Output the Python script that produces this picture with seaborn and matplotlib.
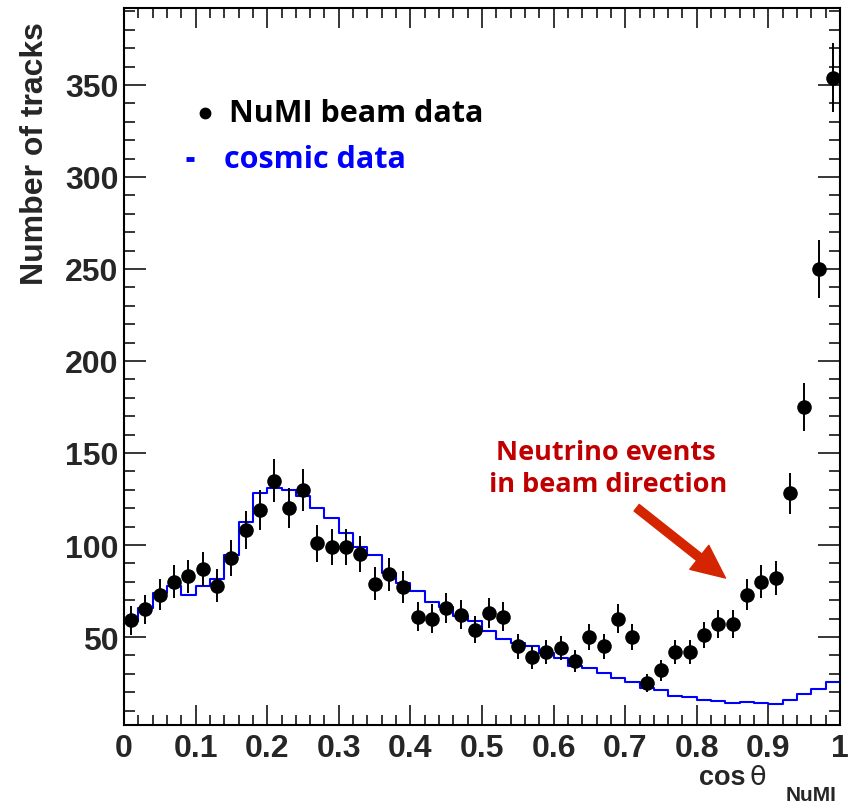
import numpy as np
import pandas as pd
import matplotlib
matplotlib.use("Agg")
import matplotlib.pyplot as plt
from matplotlib.ticker import MultipleLocator
import seaborn as sns

# ---- data ----
n_bins = 50
bin_centers = (np.arange(n_bins) + 0.5) / n_bins

numi_beam = [59, 65, 73, 80, 83, 87, 78, 93, 108, 119,
             135, 120, 130, 101, 99, 99, 95, 79, 84, 77,
             61, 60, 66, 62, 54, 63, 61, 45, 39, 42,
             44, 37, 50, 45, 60, 50, 25, 32, 42, 42,
             51, 57, 57, 73, 80, 82, 128, 175, 250, 354]

cosmic = [58.5, 66, 73.7, 77.5, 72.8, 78, 81.5, 94.4, 112.7, 128.3,
          131.2, 130, 126.5, 120, 114.9, 106.7, 98.7, 94.7, 85, 79.5,
          74.8, 69, 66.5, 61.6, 58.9, 53.4, 48.9, 46.7, 45.3, 41.3,
          38.6, 34, 33, 30.4, 27.9, 25.7, 22.4, 21.4, 18.1, 17.2,
          15.6, 15.2, 14.3, 14.5, 14.3, 13.8, 15.6, 18.9, 21.6, 25.7]

x_ticks = [0, 0.1, 0.2, 0.3, 0.4, 0.5, 0.6, 0.7, 0.8, 0.9, 1]
x_tick_labels = ["0", "0.1", "0.2", "0.3", "0.4", "0.5", "0.6", "0.7", "0.8", "0.9", "1"]
y_ticks = [50, 100, 150, 200, 250, 300, 350]

df = pd.DataFrame({"cos": bin_centers, "beam": numi_beam, "cosmic": cosmic})

# ---- style ----
sns.set_style("ticks")
plt.rcParams["font.family"] = ["Liberation Sans", "DejaVu Sans"]
LEG_FONT = ["Open Sans", "Lato", "DejaVu Sans"]

fig = plt.figure(figsize=(8.55, 8.04), dpi=100)
ax = fig.add_axes([124 / 855, 78 / 804, 716 / 855, 717 / 804])

# cosmic histogram
sns.histplot(x=df["cos"].to_numpy(), weights=df["cosmic"].to_numpy(), bins=n_bins,
             binrange=(0, 1), element="step", fill=False, color="#0000ff",
             linewidth=1.5, ax=ax)

# beam data points with Poisson errors
ax.errorbar(df["cos"], df["beam"], yerr=np.sqrt(df["beam"]), fmt="none",
            ecolor="black", elinewidth=1.4, capsize=0, zorder=3)
sns.scatterplot(data=df, x="cos", y="beam", s=110, color="black",
                edgecolor="black", linewidth=0, ax=ax, zorder=4)

ax.set_xlim(0, 1)
ax.set_ylim(2.2, 391.8)
ax.set_xlabel("")
ax.set_ylabel("")

ax.set_xticks(x_ticks)
ax.set_xticklabels(x_tick_labels)
ax.xaxis.set_minor_locator(MultipleLocator(0.02))
ax.set_yticks(y_ticks)
ax.set_yticklabels([str(v) for v in y_ticks])
ax.yaxis.set_minor_locator(MultipleLocator(10))

ax.tick_params(axis="x", which="major", direction="in", length=14.4, width=1.3,
               top=True, bottom=True, pad=6, labelsize=23)
ax.tick_params(axis="x", which="minor", direction="in", length=7.2, width=1.3,
               top=True, bottom=True)
ax.tick_params(axis="y", which="major", direction="in", length=15.8, width=1.3,
               left=True, right=True, pad=4, labelsize=23)
ax.tick_params(axis="y", which="minor", direction="in", length=8, width=1.3,
               left=True, right=True)
for lab in ax.get_xticklabels() + ax.get_yticklabels():
    lab.set_fontweight("bold")
for sp in ax.spines.values():
    sp.set_visible(True)
    sp.set_linewidth(1.5)
    sp.set_color("black")

# axis titles
fig.text(35 / 855, 1 - 22 / 804, "Number of tracks", rotation=90, ha="center",
         va="top", fontsize=23, fontweight="bold")
fig.text(745 / 855, 1 - 785 / 804, "cos", ha="right", va="baseline",
         fontsize=19.5, fontweight="bold")
fig.text(749 / 855, 1 - 785 / 804, "θ", ha="left", va="baseline",
         fontsize=19.5, family=["DejaVu Sans"])
fig.text(786 / 855, 1 - 801 / 804, "NuMI", ha="left", va="baseline",
         fontsize=15, fontweight="bold")

# legend (drawn manually to match the original)
ax.plot([0.113], [0.853], transform=ax.transAxes, marker="o", ms=7.5,
        color="black", linestyle="none")
ax.text(0.147, 0.853, "NuMI beam data", transform=ax.transAxes, ha="left",
        va="center", fontsize=22, fontweight="bold", family=LEG_FONT,
        color="black")
ax.plot([0.086, 0.098], [0.790, 0.790], transform=ax.transAxes, color="#0000ff",
        linewidth=3.5, solid_capstyle="butt")
ax.text(0.140, 0.790, "cosmic data", transform=ax.transAxes, ha="left",
        va="center", fontsize=22, fontweight="bold", family=LEG_FONT,
        color="#0000ff")

# annotation
ax.text(0.673, 0.381, "Neutrino events", transform=ax.transAxes, ha="center",
        va="center", fontsize=19.5, fontweight="bold", family=LEG_FONT,
        color="#c00000")
ax.text(0.676, 0.336, "in beam direction", transform=ax.transAxes, ha="center",
        va="center", fontsize=19.5, fontweight="bold", family=LEG_FONT,
        color="#c00000")
ax.annotate("", xy=(0.840, 0.205), xytext=(0.716, 0.303),
            xycoords="axes fraction", textcoords="axes fraction",
            arrowprops=dict(arrowstyle="simple,head_length=1.2,head_width=1.1,tail_width=0.3",
                            color="#d42400", mutation_scale=20, shrinkA=0, shrinkB=0))

fig.savefig("out.png", dpi=100)
